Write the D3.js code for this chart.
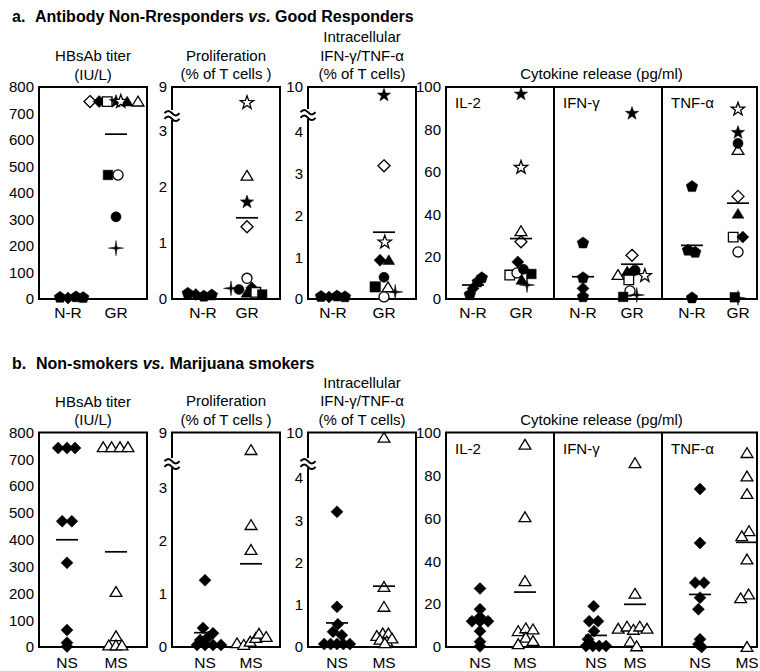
<!DOCTYPE html>
<html>
<head>
<meta charset="utf-8">
<script src="https://cdn.jsdelivr.net/npm/d3@7.9.0/dist/d3.min.js"></script>
<style>
  body { margin: 0; background: #fff; }
  svg text { font-family: "Liberation Sans", Arial, sans-serif; fill: #000; }
</style>
</head>
<body>
<svg id="chart" width="760" height="671"></svg>
<script>
// categories and tick labels
const groupsA = ["N-R", "GR"];
const groupsB = ["NS", "MS"];
const cytokines = ["IL-2", "IFN-γ", "TNF-α"];
const hbsTicks = [0, 100, 200, 300, 400, 500, 600, 700, 800];
const proTicks = [0, 1, 2, 3, 9];
const icTicks = [0, 1, 2, 3, 4, 10];
const cytoTicks = [0, 20, 40, 60, 80, 100];
const hbsTitle = ["HBsAb titer", "(IU/L)"];
const proTitle = ["Proliferation", "(% of T cells )"];
const icTitle = ["Intracellular", "IFN-γ/TNF-α", "(% of T cells)"];
const cytoTitle = "Cytokine release (pg/ml)";

// panel a: [value, marker, jitter slot]
const aHbsNR = [[6, 'pent', -1], [4, 'fDia', 0], [8, 'pent', 1], [5, 'pent', 1.9]];
const aHbsGR = [[745, 'oDia', -3.25], [745, 'fDia', -2.1], [745, 'oSq', -1.1], [745, 'fStar', 0], [745, 'oStar', 0.6],
  [745, 'fTri', 1.4], [745, 'oTri', 2.75], [468, 'fSq', -1], [468, 'oCirc', 0.25], [310, 'fCirc', 0], [192, 'cross', 0]];
const aProNR = [[0.1, 'pent', -1.9], [0.08, 'fDia', -0.9], [0.05, 'pent', 0.1], [0.07, 'pent', 1.1]];
const aProGR = [[6.86, 'oStar', 0], [2.2, 'oTri', 0], [1.73, 'fStar', 0], [1.29, 'oDia', 0], [0.37, 'oCirc', 0],
  [0.19, 'cross', -2], [0.17, 'fCirc', -1], [0.11, 'fTri', 0], [0.2, 'fDia', 0.6], [0.12, 'oSq', 1.1], [0.08, 'fSq', 1.9]];
const aIcNR = [[0.06, 'pent', -1.5], [0.05, 'fDia', -0.5], [0.07, 'pent', 0.5], [0.05, 'pent', 1.5]];
const aIcGR = [[8.9, 'fStar', 0], [3.19, 'oDia', 0], [1.36, 'oStar', 0.1], [0.93, 'fDia', -0.5], [0.93, 'fTri', 0.6],
  [0.52, 'fCirc', 0], [0.29, 'oSq', -1.1], [0.29, 'fSq', -1.1], [0.28, 'oTri', 0.5], [0.17, 'cross', 1.4], [0.05, 'oCirc', 0]];
const aIl2NR = [[2, 'pent', -0.4], [5, 'fDia', 0], [8, 'pent', 0.6], [10, 'pent', 1.1]];
const aIl2GR = [[96.6, 'fStar', 0], [62, 'oStar', 0], [32, 'oTri', 0], [27, 'oDia', 0], [17.5, 'fDia', -0.4],
  [11.3, 'oSq', -1.4], [12.3, 'oCirc', -0.5], [14, 'fCirc', 0.3], [9, 'fTri', 0.1], [11.8, 'fSq', 1.3], [6.6, 'cross', 0.75]];
const aIfnNR = [[26.4, 'pent', 0], [10, 'pent', 0], [5, 'fDia', 0], [1, 'pent', 0]];
const aIfnGR = [[87.5, 'fStar', 0], [20.6, 'oDia', 0], [11.3, 'oTri', -1.75], [13, 'fTri', -0.6], [13, 'fDia', 0.1],
  [13.5, 'fCirc', 0.4], [11, 'oStar', 1.6], [9, 'oSq', -0.4], [3.8, 'oCirc', -0.25], [1.9, 'cross', 0.6], [1, 'fSq', -1.1]];
const aTnfNR = [[53, 'pent', 0], [23, 'pent', -0.5], [22, 'pent', 0.4], [0.5, 'pent', 0]];
const aTnfGR = [[89.5, 'oStar', 0], [78.5, 'fStar', 0], [70.3, 'oTri', 0], [73.4, 'fCirc', 0], [48.4, 'oDia', 0],
  [40.2, 'fTri', 0], [29.2, 'oSq', -0.6], [29.2, 'fDia', 0.6], [22.2, 'oCirc', 0], [0.5, 'cross', 0], [0.8, 'fSq', -0.4]];
// group means: HBsAb, proliferation, intracellular, IL-2, IFN-γ, TNF-α
const aMeans = [[0, 622], [0.07, 1.45], [0.05, 1.6], [6.6, 28.5], [10.5, 16.4], [25.3, 45.2]];

// panel b: [value, jitter slot]  (NS = filled diamond, MS = open triangle)
const bHbsNS = [[742, -1.1], [742, 0], [742, 1], [469, -0.6], [469, 0.6], [314, 0], [63, 0], [16, 0], [2, 0]];
const bHbsMS = [[745, -1.6], [745, -0.55], [745, 0.5], [745, 1.5], [205, 0], [40, 0], [6, -0.9], [6, 0], [6, 0.75]];
const bProNS = [[1.26, 0], [0.36, -0.25], [0.26, 1], [0.19, 0.4], [0.13, -0.6], [0.04, -1], [0.04, 0], [0.04, 1], [0.04, 2]];
const bProMS = [[7.1, 0], [2.3, 0], [1.83, 0], [0.07, -1.75], [0.04, -0.9], [0.1, -0.1], [0.17, 0.6], [0.25, 1], [0.19, 1.9]];
const bIcNS = [[3.2, 0], [0.95, 0], [0.54, 0.1], [0.36, -0.5], [0.28, 0.6], [0.07, -1.6], [0.07, -0.8], [0.07, 0], [0.07, 0.8], [0.07, 1.6]];
const bIcMS = [[9.3, 0], [1.42, 0], [0.95, 0], [0.32, -0.15], [0.26, -0.9], [0.32, 0.55], [0.17, -0.5], [0.13, 0.35], [0.2, 1], [0.09, 0.1]];
const bIl2NS = [[27.3, 0], [17.6, 0], [14, 0], [12, -1], [12, 0], [12, 1], [7.4, 0], [2.5, 0], [0.3, 0]];
const bIl2MS = [[94.3, 0], [60.5, 0], [30.7, 0], [7.4, -0.85], [8.7, 0.1], [8.2, 1], [4.3, 0.1], [2.8, 1], [1.3, -0.85]];
const bIfnNS = [[19, -0.3], [12, -0.85], [12, 0.25], [7.4, -0.25], [3.6, -1], [0.5, -1.25], [0.5, -0.4], [0.5, 0.4], [0.5, 1.25]];
const bIfnMS = [[85.7, 0], [24.8, 0], [8.5, -2.1], [9.5, -1], [8, -0.2], [9.5, 0.6], [8.5, 1.5], [2.5, -0.6], [0.3, 0.2]];
const bTnfNS = [[73.7, 0], [48.5, 0], [30, -0.6], [30, 0.5], [23, 0], [17.6, -0.2], [3.6, 0], [1.3, -0.2], [0, 0.2]];
const bTnfMS = [[90.4, 0], [79.5, 0], [71.3, 0], [54, 0.25], [51.6, -0.65], [40.8, 0], [24.5, 0.2], [22.7, -0.8], [0, 0]];
const bMeans = [[400, 355], [0.27, 1.57], [0.57, 1.44], [13.6, 25.6], [5.4, 19.9], [24.5, 48.8]];

const JIT = 8;
const svg = d3.select('#chart');

function poly(n, R, r) {
  const k = r ? 2 * n : n;
  const pts = d3.range(k).map(i => {
    const a = -Math.PI / 2 + 2 * Math.PI * i / k;
    const rr = r && i % 2 ? r : R;
    return [rr * Math.cos(a), rr * Math.sin(a)].map(v => v.toFixed(2)).join(',');
  });
  return 'M' + pts.join('L') + 'Z';
}
const shapes = {
  Dia: 'M0,-6L6,0L0,6L-6,0Z',
  Sq: 'M-4.8,-4.8H4.8V4.8H-4.8Z',
  Circ: d3.symbol(d3.symbolCircle, 80)(),
  Tri: 'M0,-5.4L5.9,4.4L-5.9,4.4Z',
  Star: poly(5, 7, 2.8),
  cross: poly(4, 7.5, 1.4),
  pent: poly(5, 6.1)
};
const markerPath = m => shapes[m.replace(/^[fo](?=[A-Z])/, '')];
const isOpen = m => /^o[A-Z]/.test(m);

const rows = [
  { label: 'a.', title: ['Antibody Non-Rresponders ', 'vs.', ' Good Responders'], cats: groupsA,
    top: 87, bottom: 299, proMid: 131, icMid: 132, brk: [115, 114], titleY: 22, catY: 318,
    hbsX: [68, 116], proX: [203, 247], icX: [333, 384], cytoX: [[473, 521], [583, 632], [692, 738]],
    hbs: [aHbsNR, aHbsGR], pro: [aProNR, aProGR], ic: [aIcNR, aIcGR],
    cyto: [[aIl2NR, aIl2GR], [aIfnNR, aIfnGR], [aTnfNR, aTnfGR]], means: aMeans, marks: [null, null] },
  { label: 'b.', title: ['Non-smokers ', 'vs.', ' Marijuana smokers'], cats: groupsB,
    top: 432.5, bottom: 647, proMid: 488, icMid: 478, brk: [463, 463], titleY: 369, catY: 668,
    hbsX: [67, 116], proX: [205, 251], icX: [337, 384], cytoX: [[480, 525], [596, 635], [700, 747]],
    hbs: [bHbsNS, bHbsMS], pro: [bProNS, bProMS], ic: [bIcNS, bIcMS],
    cyto: [[bIl2NS, bIl2MS], [bIfnNS, bIfnMS], [bTnfNS, bTnfMS]], means: bMeans, marks: ['fDia', 'oTri'] }
];

const boxes = { hbs: [39, 147], pro: [172, 280], ic: [308, 416], cyto: [446, 757] };
const cytoDiv = [554, 662];

function frame(g, x0, x1, row) {
  g.append('rect').attr('x', x0).attr('y', row.top).attr('width', x1 - x0).attr('height', row.bottom - row.top)
    .attr('fill', 'none').attr('stroke', '#000').attr('stroke-width', 2);
}

function yAxis(g, x, y, ticks) {
  g.append('g').attr('transform', `translate(${x},0)`)
    .call(d3.axisLeft(y).tickValues(ticks).tickSize(0).tickPadding(5))
    .call(a => a.select('.domain').remove())
    .attr('font-family', '"Liberation Sans", Arial, sans-serif').attr('font-size', 15);
}

// "≈" break symbol drawn across the left axis
function breakMark(g, x, y) {
  g.append('rect').attr('x', x - 3).attr('y', y - 5).attr('width', 6).attr('height', 10).attr('fill', '#fff');
  [-2.8, 2.8].forEach(o => g.append('path')
    .attr('d', `M${x - 7.5},${y + o + 1}q3.75,-4.5 7.5,0t7.5,0`)
    .attr('fill', 'none').attr('stroke', '#000').attr('stroke-width', 2));
}

function catLabels(g, xs, row) {
  row.cats.forEach(c => g.append('text').attr('x', xs(c)).attr('y', row.catY)
    .attr('text-anchor', 'middle').attr('font-size', 15.5).text(c));
}

function titleLines(g, cx, lines, lastY) {
  lines.forEach((t, i) => g.append('text').attr('x', cx).attr('y', lastY - (lines.length - 1 - i) * 18.5)
    .attr('text-anchor', 'middle').attr('font-size', 15).text(t));
}

function drawPoints(g, xs, ys, row, pair, meanPair) {
  pair.forEach((pts, gi) => {
    const cat = row.cats[gi], fixed = row.marks[gi];
    g.append('g').selectAll('path').data(pts).join('path')
      .attr('transform', d => `translate(${xs(cat) + (fixed ? d[1] : d[2]) * JIT},${ys(d[0])})`)
      .attr('d', d => markerPath(fixed || d[1]))
      .attr('fill', d => isOpen(fixed || d[1]) ? '#fff' : '#000')
      .attr('stroke', '#000')
      .attr('stroke-width', d => isOpen(fixed || d[1]) ? 1.3 : 0.5);
  });
  meanPair.forEach((m, gi) => {
    const cx = xs(row.cats[gi]);
    g.append('line').attr('x1', cx - 11).attr('x2', cx + 11).attr('y1', ys(m)).attr('y2', ys(m))
      .attr('stroke', '#000').attr('stroke-width', 1.7);
  });
}

rows.forEach(row => {
  const g = svg.append('g');

  // row heading
  const h = g.append('text').attr('x', 12).attr('y', row.titleY).attr('font-size', 16).attr('font-weight', 'bold');
  h.append('tspan').text(row.label);
  h.append('tspan').attr('x', row.label === 'a.' ? 35 : 36).text(row.title[0]);
  h.append('tspan').attr('font-style', 'italic').text(row.title[1]);
  h.append('tspan').text(row.title[2]);

  // HBsAb titer
  {
    const [x0, x1] = boxes.hbs;
    const y = d3.scaleLinear([0, 800], [row.bottom, row.top]);
    const x = d3.scalePoint(row.cats, row.hbsX);
    frame(g, x0, x1, row);
    yAxis(g, x0, y, hbsTicks);
    titleLines(g, 93, hbsTitle, row.top - 7.5);
    drawPoints(g, x, y, row, row.hbs, row.means[0]);
    catLabels(g, x, row);
  }
  // Proliferation (broken axis)
  {
    const [x0, x1] = boxes.pro;
    const y = d3.scaleLinear([0, 3, 9], [row.bottom, row.proMid, row.top]);
    const x = d3.scalePoint(row.cats, row.proX);
    frame(g, x0, x1, row);
    breakMark(g, x0, row.brk[0]);
    yAxis(g, x0, y, proTicks);
    titleLines(g, 226, proTitle, row.top - 8);
    drawPoints(g, x, y, row, row.pro, row.means[1]);
    catLabels(g, x, row);
  }
  // Intracellular IFN-γ/TNF-α (broken axis)
  {
    const [x0, x1] = boxes.ic;
    const y = d3.scaleLinear([0, 4, 10], [row.bottom, row.icMid, row.top]);
    const x = d3.scalePoint(row.cats, row.icX);
    frame(g, x0, x1, row);
    breakMark(g, x0, row.brk[1]);
    yAxis(g, x0, y, icTicks);
    titleLines(g, 362, icTitle, row.top - 8);
    drawPoints(g, x, y, row, row.ic, row.means[2]);
    catLabels(g, x, row);
  }
  // Cytokine release
  {
    const [x0, x1] = boxes.cyto;
    const y = d3.scaleLinear([0, 100], [row.bottom, row.top]);
    frame(g, x0, x1, row);
    cytoDiv.forEach(d => g.append('line').attr('x1', d).attr('x2', d).attr('y1', row.top).attr('y2', row.bottom)
      .attr('stroke', '#000').attr('stroke-width', 2));
    yAxis(g, x0, y, cytoTicks);
    titleLines(g, (x0 + x1) / 2, [cytoTitle], row.top - 8);
    const lefts = [x0, cytoDiv[0], cytoDiv[1]];
    cytokines.forEach((c, i) => {
      g.append('text').attr('x', lefts[i] + 9).attr('y', row.top + 21).attr('font-size', 15).text(c);
      const x = d3.scalePoint(row.cats, row.cytoX[i]);
      drawPoints(g, x, y, row, row.cyto[i], row.means[3 + i]);
      catLabels(g, x, row);
    });
  }
});
</script>
</body>
</html>
